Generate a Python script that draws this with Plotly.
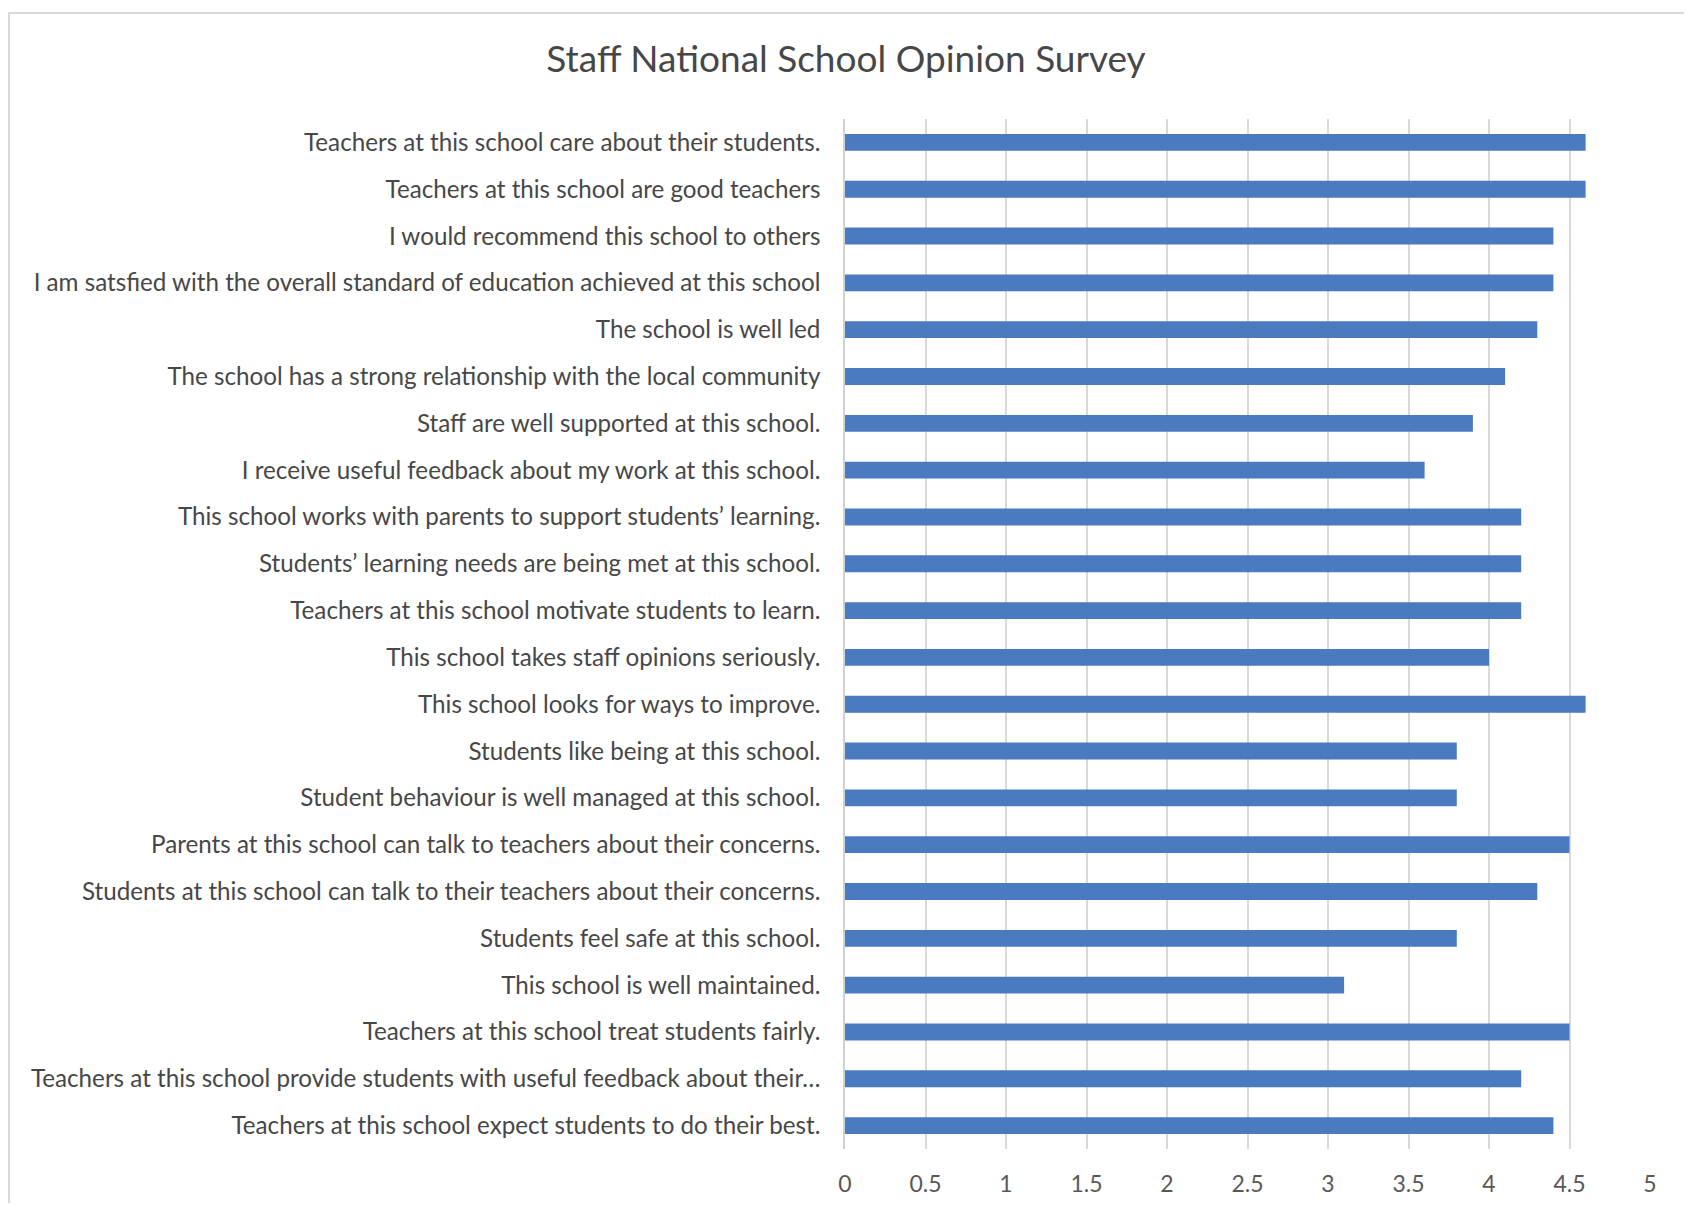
import plotly.graph_objects as go

categories = [
    "Teachers at this school care about their students.",
    "Teachers at this school are good teachers",
    "I would recommend this school to others",
    "I am satsfied with the overall standard of education achieved at this school",
    "The school is well led",
    "The school has a strong relationship with the local community",
    "Staff are well supported at this school.",
    "I receive useful feedback about my work at this school.",
    "This school works with parents to support students’ learning.",
    "Students’ learning needs are being met at this school.",
    "Teachers at this school motivate students to learn.",
    "This school takes staff opinions seriously.",
    "This school looks for ways to improve.",
    "Students like being at this school.",
    "Student behaviour is well managed at this school.",
    "Parents at this school can talk to teachers about their concerns.",
    "Students at this school can talk to their teachers about their concerns.",
    "Students feel safe at this school.",
    "This school is well maintained.",
    "Teachers at this school treat students fairly.",
    "Teachers at this school provide students with useful feedback about their…",
    "Teachers at this school expect students to do their best.",
]
values = [4.6, 4.6, 4.4, 4.4, 4.3, 4.1, 3.9, 3.6, 4.2, 4.2, 4.2, 4.0, 4.6,
          3.8, 3.8, 4.5, 4.3, 3.8, 3.1, 4.5, 4.2, 4.4]
x_ticks = [0, 0.5, 1, 1.5, 2, 2.5, 3, 3.5, 4, 4.5, 5]
x_tick_labels = ["0", "0.5", "1", "1.5", "2", "2.5", "3", "3.5", "4", "4.5", "5"]
title_text = "Staff National School Opinion Survey"

OFF = 8  # browser body margin
WIN_W, WIN_H = 1692, 1211
W, H = WIN_W - 2 * OFF, WIN_H - 2 * OFF
# targets in window pixels
PL, PR, PT, PB = 845, 1650, 119, 1149
L = PL - OFF
R = W - (PR - OFF)
T = PT - OFF
B = H - (PB - OFF)
pw, ph = W - L - R, H - T - B

def px_x(x):
    return (x - OFF - L) / pw

def px_y(y):
    return (H - B - (y - OFF)) / ph

FONT = "Lato, Open Sans, sans-serif"

fig = go.Figure(go.Bar(
    x=values, y=categories, orientation="h",
    marker=dict(color="#4a7abf", line=dict(width=0)),
    hoverinfo="x+y",
))

fig.update_layout(
    width=W, height=H,
    margin=dict(l=L, r=R, t=T, b=B, autoexpand=False),
    paper_bgcolor="white", plot_bgcolor="white",
    bargap=0.64,
    showlegend=False,
    font=dict(family=FONT, color="#474747", size=24),
    title=dict(text=title_text, x=0.5, xref="container", xanchor="center",
               y=1 - (59 - OFF) / H, yref="container", yanchor="middle",
               font=dict(size=37, color="#474747", family=FONT)),
    xaxis=dict(range=[0, 5], tickvals=x_ticks, ticktext=x_tick_labels,
               showgrid=True, gridcolor="#d9d9d9", gridwidth=1.5,
               zeroline=False, showline=False, ticks="",
               ticklabelstandoff=19,
               tickfont=dict(size=23, color="#595959")),
    yaxis=dict(autorange="reversed", showgrid=False, zeroline=False,
               showline=True, linecolor="#d0d0d0", linewidth=1.5, ticks="",
               ticklabelstandoff=18,
               tickfont=dict(size=24.2, color="#474747")),
    shapes=[dict(type="rect", xref="paper", yref="paper",
                 x0=px_x(9), x1=px_x(1685), y0=px_y(1260), y1=px_y(13),
                 line=dict(color="#d9d9d9", width=2), layer="below")],
)

fig.write_html("out.html")
